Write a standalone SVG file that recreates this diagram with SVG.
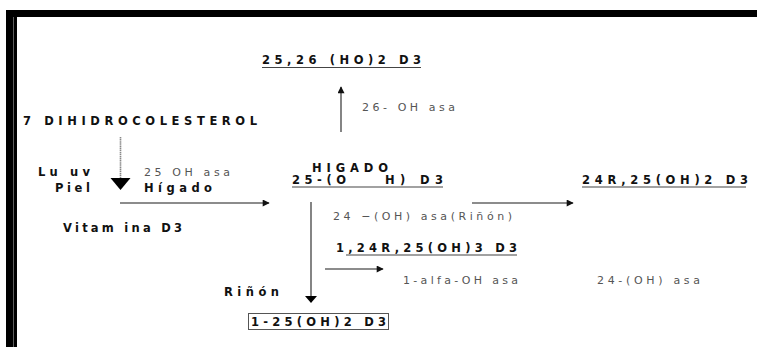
<svg xmlns="http://www.w3.org/2000/svg" width="757" height="347" viewBox="0 0 757 347">
  <defs>
    <marker id="head" viewBox="0 0 10 10" refX="9" refY="5" markerWidth="8" markerHeight="7" markerUnits="userSpaceOnUse" orient="auto">
      <path d="M0,0 L10,5 L0,10 z" fill="#111"/>
    </marker>
    <style>
      text { font-family: "DejaVu Sans", "Liberation Sans", sans-serif; }
      .b { font-size: 11.5px; font-weight: bold; fill: #111; }
      .r { font-size: 11px; fill: #555; }
      .ul { stroke: #444; stroke-width: 1.2; }
      .ln { stroke: #666; stroke-width: 1.6; fill: none; }
    </style>
  </defs>

  <rect width="757" height="347" fill="#fff"/>

  <!-- heavy frame, top and left -->
  <g id="frame">
    <rect x="6" y="10" width="751" height="7" fill="#000"/>
    <rect x="6" y="10" width="11" height="337" fill="#000"/>
    <line x1="13.5" y1="17" x2="13.5" y2="347" stroke="#777" stroke-width="0.8"/>
  </g>

  <!-- connectors -->
  <g id="connectors">
    <line class="ln" x1="341" y1="132" x2="341" y2="87" marker-end="url(#head)"/>
    <line x1="120.5" y1="137" x2="120.5" y2="179" stroke="#888" stroke-width="1.6" stroke-dasharray="1.5 0.6"/>
    <path d="M110.5,178 L130.5,178 L120.5,190 z" fill="#000"/>
    <line class="ln" x1="120" y1="203" x2="269" y2="203" marker-end="url(#head)"/>
    <line class="ln" x1="472" y1="203" x2="573" y2="203" marker-end="url(#head)"/>
    <line class="ln" x1="311" y1="202" x2="311" y2="297"/>
    <path d="M305,296 L317,296 L311,303 z" fill="#000"/>
    <line class="ln" x1="325" y1="269" x2="383" y2="269" marker-end="url(#head)"/>
  </g>

  <g id="n-2526">
    <text class="b" x="262" y="64" textLength="159" lengthAdjust="spacing">25,26 (HO)2 D3</text>
    <line class="ul" x1="262" y1="67.5" x2="421" y2="67.5"/>
  </g>
  <g id="l-26oh">
    <text class="r" x="362" y="111" textLength="93" lengthAdjust="spacing">26- OH asa</text>
  </g>
  <g id="n-7dhc">
    <text class="b" x="23" y="125" textLength="234" lengthAdjust="spacing">7 DIHIDROCOLESTEROL</text>
  </g>
  <g id="l-luz">
    <text class="b" x="38" y="176" textLength="52" lengthAdjust="spacing">Lu uv</text>
    <text class="b" x="55" y="192" textLength="35" lengthAdjust="spacing">Piel</text>
  </g>
  <g id="l-25oh">
    <text class="r" x="144" y="176" textLength="86" lengthAdjust="spacing">25 OH asa</text>
    <text class="b" x="144" y="192" textLength="68" lengthAdjust="spacing">Hígado</text>
  </g>
  <g id="n-vitd3">
    <text class="b" x="63" y="232" textLength="119" lengthAdjust="spacing">Vitam ina D3</text>
  </g>
  <g id="n-25ohd3">
    <text class="b" x="312" y="172" textLength="76" lengthAdjust="spacing">HIGADO</text>
    <text class="b" x="292" y="184" xml:space="preserve"><tspan x="292" textLength="54" lengthAdjust="spacing">25-(O</tspan><tspan x="385" textLength="58" lengthAdjust="spacing">H) D3</tspan></text>
    <line class="ul" x1="292" y1="187" x2="443" y2="187"/>
  </g>
  <g id="n-24r25">
    <text class="b" x="582" y="184" textLength="166" lengthAdjust="spacing">24R,25(OH)2 D3</text>
    <line class="ul" x1="582" y1="187" x2="746" y2="187"/>
  </g>
  <g id="l-24oh-rinon">
    <text class="r" x="333" y="220" textLength="179" lengthAdjust="spacing">24 −(OH) asa(Riñón)</text>
  </g>
  <g id="n-12425">
    <text class="b" x="336" y="252" textLength="181" lengthAdjust="spacing">1,24R,25(OH)3 D3</text>
    <line class="ul" x1="346" y1="255" x2="517" y2="255"/>
  </g>
  <g id="l-1alfa">
    <text class="r" x="403" y="284" textLength="115" lengthAdjust="spacing">1-alfa-OH asa</text>
  </g>
  <g id="l-24oh">
    <text class="r" x="597" y="284" textLength="103" lengthAdjust="spacing">24-(OH) asa</text>
  </g>
  <g id="l-rinon">
    <text class="b" x="224" y="296" textLength="55" lengthAdjust="spacing">Riñón</text>
  </g>
  <g id="n-125ohd3">
    <rect x="248.5" y="313.5" width="140" height="16" fill="#fff" stroke="#555" stroke-width="1"/>
    <text class="b" x="251" y="326" textLength="135" lengthAdjust="spacing">1-25(OH)2 D3</text>
  </g>
</svg>
